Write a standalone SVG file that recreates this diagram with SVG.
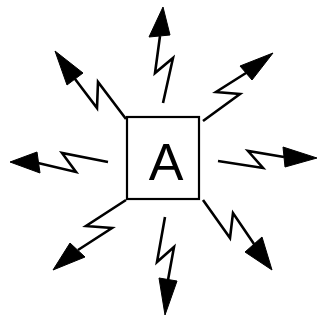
<svg xmlns="http://www.w3.org/2000/svg" width="321" height="321" viewBox="0 0 321 321">
<style>
.shaft{fill:none;stroke:#000;stroke-width:2.6;stroke-linejoin:miter;stroke-linecap:butt}
.head{fill:#000;stroke:#000;stroke-width:1;stroke-linejoin:round}
.box{fill:#fff;stroke:#000;stroke-width:2.2}
.lbl{font-family:"Liberation Sans",Arial,sans-serif;font-size:52px;fill:#000;text-anchor:middle}
</style>
<rect width="321" height="321" fill="#fff"/>
<g id="connectors">
<polyline class="shaft" points="163,103 173,58 155,73 160,36"/>
<polygon class="head" points="163,7 149,37 170,35"/>
<polyline class="shaft" points="203,121 240,94 216,92 246,73"/>
<polygon class="head" points="273,53 240,66 252,80"/>
<polyline class="shaft" points="218,161 263,168 248,151 284,157"/>
<polygon class="head" points="317,158 283,147 285,167"/>
<polyline class="shaft" points="203,200 230,238 233,213 254,244"/>
<polygon class="head" points="272,270 245,252 262,237"/>
<polyline class="shaft" points="165,217 157,262 174,247 168,280"/>
<polygon class="head" points="165,315 159,278 177,281"/>
<polyline class="shaft" points="126,200 86,226 112,228 78,250"/>
<polygon class="head" points="53,270 70,243 85,257"/>
<polyline class="shaft" points="108,162 62,153 76,172 38,163"/>
<polygon class="head" points="10,162 37,152 40,173"/>
<polyline class="shaft" points="126,119 98,82 97,108 75,79"/>
<polygon class="head" points="55,51 67,85 83,73"/>
</g>
<g id="nodeA">
<rect class="box" x="127" y="117" width="72" height="82"/>
<text class="lbl" x="166" y="180">A</text>
</g>
</svg>
